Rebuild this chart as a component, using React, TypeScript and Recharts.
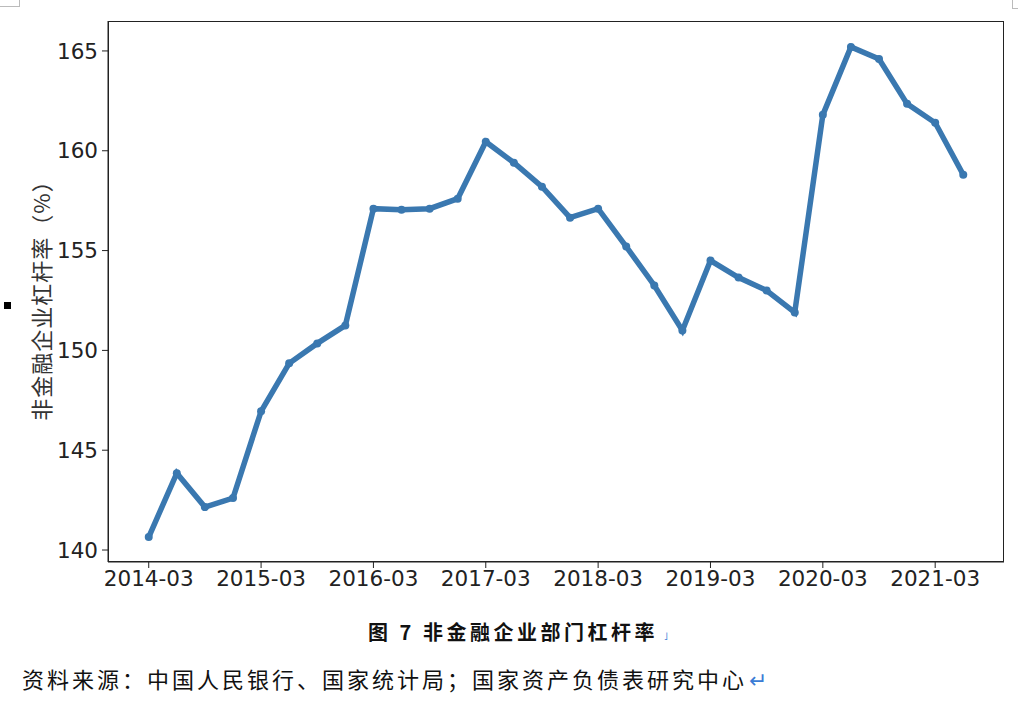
import { LineChart, Line, XAxis, YAxis } from 'recharts';

// quarterly observations
const quarters = [
  '2014-03', '2014-06', '2014-09', '2014-12',
  '2015-03', '2015-06', '2015-09', '2015-12',
  '2016-03', '2016-06', '2016-09', '2016-12',
  '2017-03', '2017-06', '2017-09', '2017-12',
  '2018-03', '2018-06', '2018-09', '2018-12',
  '2019-03', '2019-06', '2019-09', '2019-12',
  '2020-03', '2020-06', '2020-09', '2020-12',
  '2021-03', '2021-06',
];

const leverage = [
  140.65, 143.85, 142.15, 142.6,
  146.95, 149.35, 150.35, 151.25,
  157.1, 157.05, 157.1, 157.6,
  160.45, 159.4, 158.2, 156.65,
  157.1, 155.2, 153.25, 151.0,
  154.5, 153.65, 153.0, 151.9,
  161.8, 165.2, 164.6, 162.35,
  161.4, 158.8,
];

const xTickLabels = ['2014-03', '2015-03', '2016-03', '2017-03', '2018-03', '2019-03', '2020-03', '2021-03'];
const yTicks = [140, 145, 150, 155, 160, 165];

const chartData = quarters.map((q, i) => ({ idx: i, quarter: q, value: leverage[i] }));
const xTicks = xTickLabels.map((l) => quarters.indexOf(l));

const LINE = '#3a78b0';
const INK = '#222';
const tickStyle = { fill: INK, fontSize: 21.5, fontFamily: 'DejaVu Sans' };

export default function App() {
  return (
    <div style={{ position: 'absolute', left: 0, top: 0, width: 1018, height: 712, background: '#fff' }}>
      <LineChart width={1018} height={712} data={chartData} margin={{ top: 21, right: 14, bottom: 0, left: 0 }}>
        <XAxis
          dataKey="idx"
          type="number"
          domain={[-1.45, 30.45]}
          ticks={xTicks}
          tickFormatter={(v) => quarters[v]}
          tick={tickStyle}
          axisLine={{ stroke: INK }}
          tickLine={{ stroke: INK }}
          tickSize={6}
          tickMargin={3}
          height={150}
          interval={0}
        />
        <YAxis
          domain={[139.4, 166.5]}
          ticks={yTicks}
          tick={tickStyle}
          axisLine={{ stroke: INK }}
          tickLine={{ stroke: INK }}
          tickSize={6}
          tickMargin={4}
          width={108}
          allowDataOverflow
        />
        <Line
          dataKey="value"
          stroke={LINE}
          strokeWidth={5.5}
          dot={{ r: 4, fill: LINE, stroke: LINE, strokeWidth: 0 }}
          isAnimationActive={false}
        />
      </LineChart>

      {/* frame around plot area */}
      <div style={{ position: 'absolute', left: 108, top: 21, width: 896, height: 541, border: `1px solid ${INK}`, boxSizing: 'border-box', pointerEvents: 'none' }} />

      {/* y axis title */}
      <div
        style={{
          position: 'absolute', left: 40, top: 295, transform: 'translate(-50%, -50%) rotate(-90deg)',
          whiteSpace: 'nowrap', fontFamily: '"Noto Sans CJK SC"', fontSize: 22, color: '#333', letterSpacing: 1,
        }}
      >
        非金融企业杠杆率（%）
      </div>

      {/* page marks */}
      <div style={{ position: 'absolute', left: 4, top: 302, width: 7, height: 7, background: '#000' }} />
      <div style={{ position: 'absolute', left: 0, top: 0, width: 19, height: 6, borderRight: '1px solid #bbb', borderBottom: '1px solid #bbb' }} />
      <div style={{ position: 'absolute', left: 1012, top: 0, width: 6, height: 8, borderLeft: '1px solid #bbb', borderBottom: '1px solid #bbb' }} />

      {/* caption */}
      <div
        style={{
          position: 'absolute', left: 368, top: 617, whiteSpace: 'nowrap',
          fontFamily: '"Noto Sans CJK SC"', fontSize: 20, fontWeight: 600, color: '#111', letterSpacing: 3.5,
        }}
      >
        图 7 非金融企业部门杠杆率<span style={{ color: '#3a7bd5', fontSize: 10, marginLeft: 6 }}>˩</span>
      </div>

      {/* source note */}
      <div
        style={{
          position: 'absolute', left: 22, top: 662, whiteSpace: 'nowrap',
          fontFamily: '"Noto Sans CJK SC"', fontSize: 22, color: '#111', letterSpacing: 3,
        }}
      >
        资料来源：中国人民银行、国家统计局；国家资产负债表研究中心<span style={{ color: '#3a7bd5', marginLeft: 2 }}>↵</span>
      </div>
    </div>
  );
}
